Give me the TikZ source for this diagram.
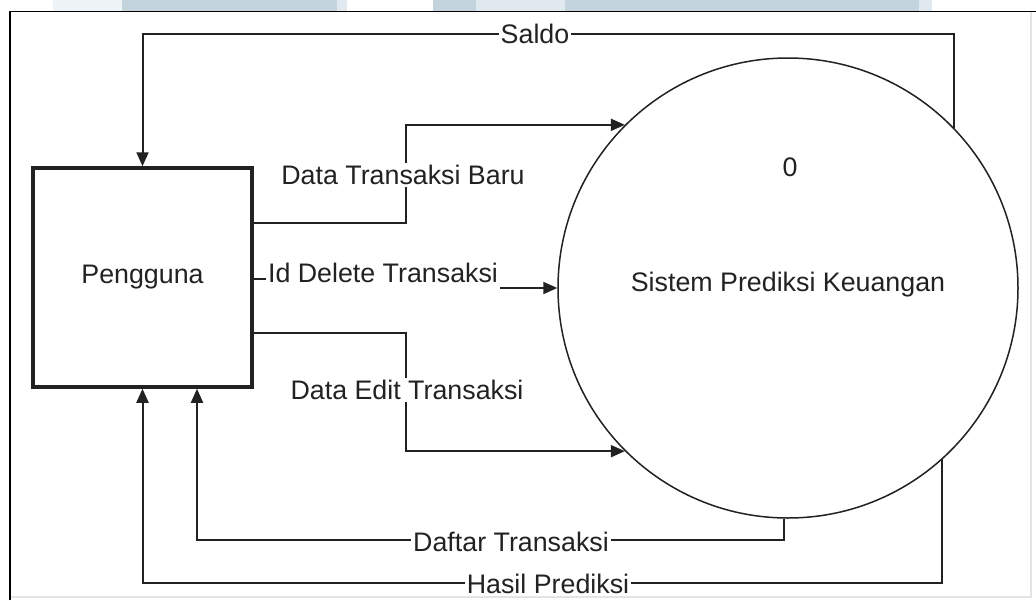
\documentclass[tikz,border=0pt]{standalone}
\usepackage{fontspec}
\setmainfont{Liberation Sans}
\usetikzlibrary{arrows.meta,calc}
\definecolor{ink}{HTML}{222222}
\definecolor{bandA}{HTML}{C4D4DC}
\definecolor{bandB}{HTML}{DFE9EF}
\definecolor{bandC}{HTML}{EEF3F6}
\definecolor{edgegray}{HTML}{E4E4E4}
\tikzset{
  flow/.style={draw=ink, line width=2pt, -{Triangle[length=14pt,width=12pt]}},
  lbl/.style={fill=white, inner sep=2pt, text=ink, font=\fontsize{26.8}{30}\selectfont},
  entity/.style={draw=ink, line width=3.5pt, minimum width=219pt, minimum height=219pt, inner sep=0pt,
    font=\fontsize{26.8}{30}\selectfont, text=ink},
  process/.style={draw=ink, circle, line width=1.5pt, minimum size=460pt, inner sep=0pt},
  txt/.style={text=ink, font=\fontsize{26.8}{30}\selectfont, inner sep=0pt}
}
\begin{document}
\begin{tikzpicture}[x=1pt,y=-1pt]
\useasboundingbox (0,0) rectangle (1036,600);
\fill[white] (0,0) rectangle (1036,600);

% strip along the top edge
\fill[bandC] (53,0) rectangle (122,10.5);
\fill[bandA] (122,0) rectangle (337,10.5);
\fill[bandB] (337,0) rectangle (347,10.5);
\fill[bandA] (433,0) rectangle (476,10.5);
\fill[bandB] (476,0) rectangle (565,10.5);
\fill[bandA] (565,0) rectangle (919,10.5);
\fill[bandB] (919,0) rectangle (932,10.5);

% frame
\draw[edgegray, line width=1.2pt] (1031,12) -- (1031,597) -- (10,597);
\draw[black, line width=1.6pt] (10,600) -- (10,11.5) -- (1036,11.5);

% nodes
\node[entity] (p) at (142.5,277.5) {Pengguna};
\node[process] (s) at (788,288) {};
\node[txt] (zero) at (790,167) {0};
\node[txt] (sname) at (788,285) {Sistem Prediksi Keuangan};

% end points on the lower side of the entity
\coordinate (pdaftar) at ($(p.south)+(54.5,0)$);

% connectors
\draw[flow] (s.44.5) |- (p.north |- 0,34) -- (p.north);
\draw[flow] (p.east |- 0,223) -- (406,223) |- (s.135);
\draw[flow] (p.east |- 0,279) -- (488,279) |- (s.west);
\draw[flow] (p.east |- 0,333) -- (406,333) |- (s.225);
\draw[flow] (s.-91.2) |- (pdaftar |- 0,540) -- (pdaftar);
\draw[flow] (s.-48) |- (p.south |- 0,583) -- (p.south);

% flow labels
\node[lbl] (lsaldo) at (535,34) {Saldo};
\node[lbl] (lbaru) at (403,175) {Data Transaksi Baru};
\node[lbl, inner ysep=9pt] (ldelete) at (383,273) {Id Delete Transaksi};
\node[lbl] (ledit) at (407,390) {Data Edit Transaksi};
\node[lbl] (ldaftar) at (511,542) {Daftar Transaksi};
\node[lbl] (lhasil) at (548,584) {Hasil Prediksi};
\end{tikzpicture}
\end{document}
